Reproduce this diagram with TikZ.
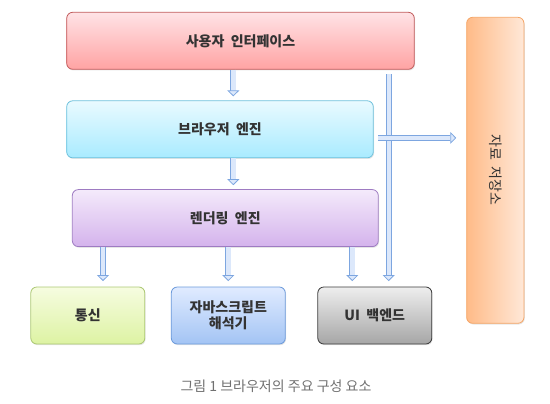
\documentclass[tikz,border=0pt]{standalone}
\usepackage{fontspec}
\setmainfont{Noto Sans CJK KR}[WordSpace=2]
\newfontfamily\capfont{Noto Sans CJK KR}
\usetikzlibrary{arrows.meta,positioning,shadows}
\definecolor{textgray}{HTML}{333333}
\definecolor{capgray}{HTML}{707070}
\definecolor{flowedge}{HTML}{7DA6E0}
\definecolor{flowfill}{HTML}{DCE8FB}
\tikzset{
	stage/.style={
		rectangle,
		rounded corners=6pt,
		line width=0.8pt,
		inner sep=0pt,
		minimum height=57pt,
		align=center,
		text=textgray,
		font=\fontsize{14}{16.5}\selectfont\bfseries,
		drop shadow={opacity=0.2, shadow xshift=0.8pt, shadow yshift=-1.2pt},
	},
	small/.style={
		stage,
		minimum width=114pt,
	},
	flow/.style={
		draw=flowedge,
		line width=0.8pt,
		double=flowfill,
		double distance=4.4pt,
		-{Triangle[length=6pt,width=12pt,fill=flowfill]},
	},
	caption/.style={
		text=capgray,
		font=\capfont\fontsize{14}{16}\selectfont,
	},
}
\begin{document}
\begin{tikzpicture}[x=1pt, y=-1pt]
	\useasboundingbox (0,0) rectangle (550,404);
	% nodes
	\node [stage, minimum width=347.6pt, draw=red!45!gray!90, top color={rgb,255:red,255;green,227;blue,230}, bottom color={rgb,255:red,255;green,163;blue,163}] (ui) at (240.5,40.8) {사용자 인터페이스};
	\node [stage, minimum width=306.6pt, draw={rgb,255:red,110;green,193;blue,220}, top color={rgb,255:red,233;green,250;blue,255}, bottom color={rgb,255:red,169;green,235;blue,255}] (be) [below=30.7pt of ui.south west, anchor=north west] {브라우저 엔진};
	\node [stage, minimum width=306pt, draw={rgb,255:red,158;green,123;blue,194}, top color={rgb,255:red,244;green,234;blue,251}, bottom color={rgb,255:red,212;green,179;blue,236}] (re) [below=31pt of be.south west, xshift=5.6pt, anchor=north west] {렌더링 엔진};
	\node [small, draw={rgb,255:red,172;green,200;blue,116}, top color={rgb,255:red,246;green,252;blue,224}, bottom color={rgb,255:red,221;green,243;blue,163}] (net) at (87.8,315.5) {통신};
	\node [small, draw={rgb,255:red,109;green,155;blue,219}, top color={rgb,255:red,224;green,235;blue,255}, bottom color={rgb,255:red,163;green,196;blue,244}] (js) [right=25.7pt of net] {자바스크립트\\해석기};
	\node [small, draw={rgb,255:red,60;green,60;blue,60}, top color={rgb,255:red,238;green,238;blue,238}, bottom color={rgb,255:red,166;green,166;blue,166}] (uib) [right=31.7pt of js] {UI 백엔드};
	\node [stage, minimum width=57.3pt, minimum height=306pt, font=\fontsize{14}{16}\selectfont, draw={rgb,255:red,245;green,165;blue,101}, left color={rgb,255:red,255;green,187;blue,136}, right color={rgb,255:red,255;green,232;blue,216}] (ds) at (495.3,170.3) {\rotatebox[origin=c]{-90}{자료 저장소}};
	\node [caption] (cap) at (276,386) {그림 1 브라우저의 주요 구성 요소};

	% arcs
	\draw [flow, shorten >=4pt] ([xshift=-7.2pt]ui.south) -- ([xshift=-7.2pt]ui.south |- be.north);
	\draw [flow, shorten >=4pt] ([xshift=13.3pt]be.south) -- ([xshift=13.3pt]be.south |- re.north);
	\draw [flow, shorten >=5.5pt] ([xshift=-122.3pt]re.south) -- ([xshift=-122.3pt]re.south |- net.north);
	\draw [flow, shorten >=5.5pt] (re.south -| js.north) -- (js.north);
	\draw [flow, shorten >=5.5pt] ([xshift=127pt]re.south) -- ([xshift=127pt]re.south |- uib.north);
	\draw [flow, shorten <=4.7pt, shorten >=5.5pt] ([xshift=148.2pt]ui.south) -- ([xshift=148.2pt]ui.south |- uib.north);
	\draw [flow, shorten <=4.4pt, shorten >=10pt] ([yshift=-8.6pt]be.east) -- ([yshift=-8.6pt]be.east -| ds.west);
\end{tikzpicture}
\end{document}
